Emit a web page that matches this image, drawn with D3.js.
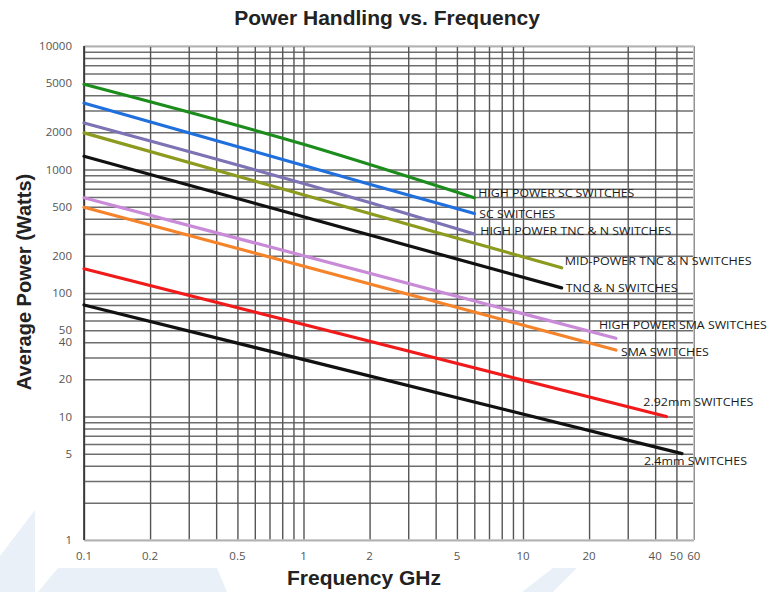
<!DOCTYPE html>
<html>
<head>
<meta charset="utf-8">
<script src="https://cdn.jsdelivr.net/npm/d3@7"></script>
<style>
  html, body { margin: 0; padding: 0; background: #fff; }
  svg { display: block; }
</style>
</head>
<body>
<svg id="chart" width="771" height="592"></svg>
<script>
// ---- data ----
const seriesNames = [
  "HIGH POWER SC SWITCHES",
  "SC SWITCHES",
  "HIGH POWER TNC & N SWITCHES",
  "MID-POWER TNC & N SWITCHES",
  "TNC & N SWITCHES",
  "HIGH POWER SMA SWITCHES",
  "SMA SWITCHES",
  "2.92mm SWITCHES",
  "2.4mm SWITCHES"
];
const hpScFreq   = [0.1, 1, 6];     const hpScPower   = [4900, 1600, 590];
const scFreq     = [0.1, 2, 6];     const scPower     = [3450, 760, 440];
const hpTncFreq  = [0.1, 2, 6];     const hpTncPower  = [2380, 540, 300];
const midTncFreq = [0.1, 15];       const midTncPower = [1980, 160];
const tncFreq    = [0.1, 15];       const tncPower    = [1280, 110];
const hpSmaFreq  = [0.1, 26.5];     const hpSmaPower  = [590, 43];
const smaFreq    = [0.1, 26.5];     const smaPower    = [495, 34.5];
const sw292Freq  = [0.1, 45];       const sw292Power  = [157, 10];
const sw24Freq   = [0.1, 53];       const sw24Power   = [80, 5];

const yTickLabels = [10000, 5000, 2000, 1000, 500, 200, 100, 50, 40, 20, 10, 5, 1];
const xTickLabels = [0.1, 0.2, 0.5, 1, 2, 5, 10, 20, 40, 50, 60];

// ---- styles / layout ----
const colors = ["#1c8c1c", "#1f6fdc", "#7d72b4", "#8c9a1e", "#111111", "#c98ad8", "#f5832a", "#f01a1a", "#111111"];
const labelOffsets = [[4,-5],[5,0],[6,-3],[3,-7],[4,0],[-17,-13],[5,2],[-23,-15],[-38,7]];
const labelWidths = [156, 76, 191, 187, 112, 168, 88, 110, 103];

const seriesFreqs = [hpScFreq, scFreq, hpTncFreq, midTncFreq, tncFreq, hpSmaFreq, smaFreq, sw292Freq, sw24Freq];
const seriesPowers = [hpScPower, scPower, hpTncPower, midTncPower, tncPower, hpSmaPower, smaPower, sw292Power, sw24Power];
const series = seriesNames.map((name, i) => ({
  name, color: colors[i],
  points: seriesFreqs[i].map((f, j) => ({ f, p: seriesPowers[i][j] }))
}));

const svg = d3.select("#chart");

// watermark shapes
const wm = svg.append("g").attr("fill", "#e9f0f8");
wm.append("polygon").attr("points", "0,556 35,510 35,592 0,592");
wm.append("polygon").attr("points", "58,568 217,568 227,592 38,592");
wm.append("polygon").attr("points", "553,568 577,568 553,592 522,592");

const x = d3.scaleLog().domain([0.1, 60]).range([84, 693.8]);
const y = d3.scaleLog().domain([1, 10000]).range([540, 46]);

const plot = svg.append("g");
plot.append("rect").attr("x", 84).attr("y", 46).attr("width", 693.8 - 84).attr("height", 494).attr("fill", "#fff");

// horizontal gridlines
const gy = plot.append("g")
  .attr("transform", "translate(84,0)")
  .call(d3.axisLeft(y).tickValues(y.ticks()).tickSize(-(693.8 - 84)).tickFormat(""));
gy.select(".domain").remove();
gy.selectAll(".tick line").attr("stroke", "#6e6e6e").attr("stroke-width", 1.5);

// vertical gridlines
const gx = plot.append("g")
  .attr("transform", "translate(0,540)")
  .call(d3.axisBottom(x).tickValues(x.ticks()).tickSize(-494).tickFormat(""));
gx.select(".domain").remove();
gx.selectAll(".tick line").attr("stroke", "#555").attr("stroke-width", 1.4);

// frame
plot.append("line").attr("x1", 84).attr("x2", 693.8).attr("y1", 46).attr("y2", 46).attr("stroke", "#c8c8c8").attr("stroke-width", 1.5);
plot.append("line").attr("x1", 84).attr("x2", 693.8).attr("y1", 540).attr("y2", 540).attr("stroke", "#c8c8c8").attr("stroke-width", 1.5);
plot.append("line").attr("x1", 693.8).attr("x2", 693.8).attr("y1", 46).attr("y2", 540).attr("stroke", "#c8c8c8").attr("stroke-width", 1.5);
plot.append("line").attr("x1", 84).attr("x2", 84).attr("y1", 46).attr("y2", 540).attr("stroke", "#333").attr("stroke-width", 1.6);

// tick labels
svg.append("g").selectAll("text").data(yTickLabels).join("text")
  .attr("x", 72).attr("y", d => y(d)).attr("dy", "0.35em")
  .attr("text-anchor", "end")
  .attr("font-family", "'Open Sans', sans-serif").attr("font-size", 11.5)
  .attr("fill", "#555").text(d => d);

svg.append("g").selectAll("text").data(xTickLabels).join("text")
  .attr("x", d => x(d)).attr("y", 556).attr("dy", "0.35em")
  .attr("text-anchor", "middle")
  .attr("font-family", "'Open Sans', sans-serif").attr("font-size", 11.5)
  .attr("fill", "#555").text(d => d);

// series lines
const line = d3.line().x(d => x(d.f)).y(d => y(d.p)).curve(d3.curveMonotoneX);
svg.append("g").selectAll("path").data(series).join("path")
  .attr("d", d => line(d.points))
  .attr("fill", "none").attr("stroke", d => d.color).attr("stroke-width", 3.2)
  .attr("stroke-linecap", "round");

// series labels
svg.append("g").selectAll("text").data(series).join("text")
  .attr("x", (d, i) => x(d.points[d.points.length - 1].f) + labelOffsets[i][0])
  .attr("y", (d, i) => y(d.points[d.points.length - 1].p) + labelOffsets[i][1])
  .attr("dy", "0.35em")
  .attr("font-family", "'Open Sans', sans-serif").attr("font-size", 11.5)
  .attr("fill", "#1a1a1a")
  .attr("textLength", (d, i) => labelWidths[i]).attr("lengthAdjust", "spacingAndGlyphs")
  .text(d => d.name);

// titles
svg.append("text").attr("x", 387).attr("y", 25).attr("text-anchor", "middle")
  .attr("font-family", "'Liberation Sans', Arial, sans-serif").attr("font-weight", "bold")
  .attr("font-size", 21).attr("fill", "#222").text("Power Handling vs. Frequency");

svg.append("text").attr("x", 364).attr("y", 585).attr("text-anchor", "middle")
  .attr("font-family", "'Liberation Sans', Arial, sans-serif").attr("font-weight", "bold")
  .attr("font-size", 21).attr("fill", "#222").text("Frequency GHz");

svg.append("text").attr("transform", "translate(30.5,282) rotate(-90)").attr("text-anchor", "middle")
  .attr("font-family", "'Liberation Sans', Arial, sans-serif").attr("font-weight", "bold")
  .attr("font-size", 20).attr("fill", "#222").text("Average Power (Watts)");
</script>
</body>
</html>
